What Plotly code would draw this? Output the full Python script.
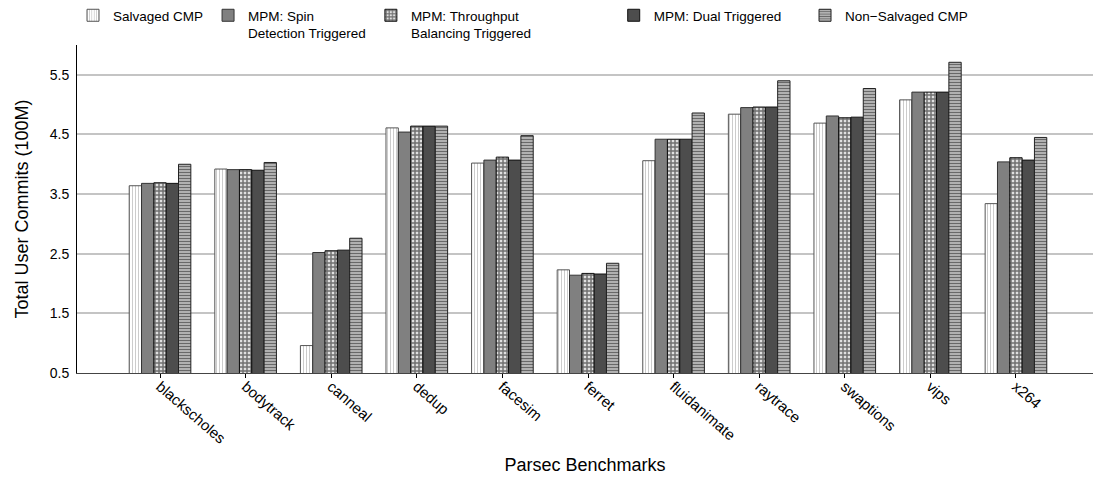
import plotly.graph_objects as go

benchmarks = ["blackscholes", "bodytrack", "canneal", "dedup", "facesim", "ferret",
              "fluidanimate", "raytrace", "swaptions", "vips", "x264"]
salvaged = [3.64, 3.92, 0.96, 4.61, 4.02, 2.23, 4.06, 4.84, 4.69, 5.08, 3.34]
spin = [3.68, 3.91, 2.52, 4.54, 4.07, 2.14, 4.42, 4.95, 4.81, 5.21, 4.04]
throughput = [3.69, 3.91, 2.55, 4.64, 4.12, 2.17, 4.42, 4.96, 4.78, 5.21, 4.11]
dual = [3.68, 3.90, 2.56, 4.64, 4.07, 2.16, 4.42, 4.96, 4.79, 5.21, 4.07]
non_salvaged = [4.00, 4.03, 2.76, 4.64, 4.48, 2.34, 4.86, 5.40, 5.27, 5.71, 4.45]

NB = "\u00a0"
series_names = ["Salvaged CMP", "MPM: Spin<br>Detection Triggered",
                "MPM: Throughput" + NB * 24 + "<br>Balancing Triggered",
                "MPM: Dual Triggered" + NB * 5,
                "Non\u2212Salvaged CMP"]
y_ticks = [0.5, 1.5, 2.5, 3.5, 4.5, 5.5]

styles = [
    dict(color="white", pattern=dict(shape="|", fgcolor="#999999", bgcolor="white", size=3, solidity=0.35),
         line=dict(color="#555555", width=1)),
    dict(color="#808080", line=dict(color="#333333", width=1)),
    dict(color="white", pattern=dict(shape="+", fgcolor="#000000", bgcolor="#e0e0e0", size=4, solidity=0.6),
         line=dict(color="#111111", width=1)),
    dict(color="#4d4d4d", line=dict(color="#111111", width=1)),
    dict(color="#c8c8c8", pattern=dict(shape="-", fgcolor="#111111", bgcolor="#c0c0c0", size=3, solidity=0.45),
         line=dict(color="#222222", width=1)),
]

fig = go.Figure()
for name, vals, st in zip(series_names, [salvaged, spin, throughput, dual, non_salvaged], styles):
    fig.add_trace(go.Bar(x=benchmarks, y=vals, name=name, marker=st))

fig.update_layout(
    width=1095, height=480,
    margin=dict(l=77, r=2, t=45, b=107, autoexpand=False),
    paper_bgcolor="white", plot_bgcolor="white",
    font=dict(family="Liberation Sans, Arial, sans-serif", size=14, color="black"),
    barmode="group", bargap=0.28, bargroupgap=0,
    legend=dict(orientation="h", x=73 / 1095, y=1.0, xref="container", yref="container",
                xanchor="left", yanchor="top", font=dict(size=13.5), valign="top",
                traceorder="normal", bgcolor="rgba(0,0,0,0)"),
    showlegend=True,
)
fig.update_xaxes(
    range=[-0.97, 10.9], tickangle=41, ticks="outside", ticklen=4, tickcolor="black",
    showline=True, linecolor="#444444", linewidth=1, showgrid=False,
    title=dict(text="Parsec Benchmarks", font=dict(size=18), standoff=12),
    tickfont=dict(size=15), ticklabelstandoff=-6,
)
fig.update_yaxes(
    range=[0.5, 6.0], tickvals=y_ticks, ticktext=[str(t) for t in y_ticks],
    showline=True, linecolor="black", linewidth=1, ticks="outside", ticklen=4, tickcolor="rgba(0,0,0,0)",
    showgrid=True, gridcolor="#c4c4c4", gridwidth=1.5,
    title=dict(text="Total User Commits (100M)", font=dict(size=18), standoff=16),
    tickfont=dict(size=14), zeroline=False,
)
fig.write_html("out.html", post_script="document.body.style.margin='0';",
               config={"displayModeBar": False})
